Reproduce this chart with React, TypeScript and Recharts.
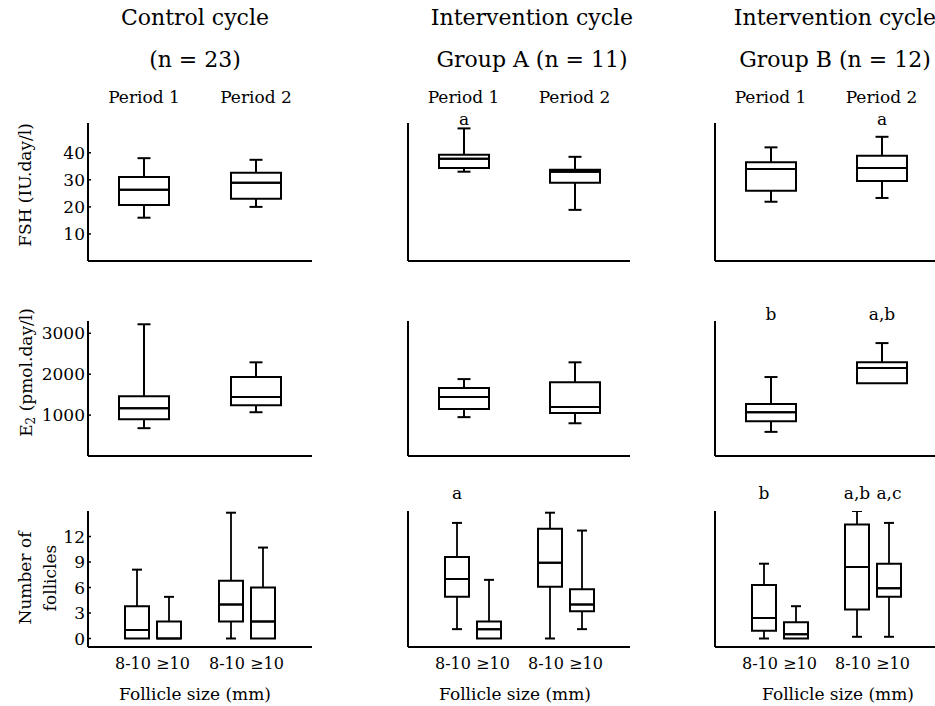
import React from "react";
import { ComposedChart, Bar, XAxis, YAxis, LabelList } from "recharts";

const FONT = "'DejaVu Serif', 'Liberation Serif', 'Noto Serif', serif";

// ---------- text ----------
const columnTitles = [
  ["Control cycle", "(n = 23)"],
  ["Intervention cycle", "Group A (n = 11)"],
  ["Intervention cycle", "Group B (n = 12)"],
];
const periods = ["Period 1", "Period 2"];
const follicleSizes = ["8-10", "≥10"];
const xAxisTitle = "Follicle size (mm)";

// ---------- axes ----------
const fshTicks = [10, 20, 30, 40];
const e2Ticks = [1000, 2000, 3000];
const follicleTicks = [0, 3, 6, 9, 12];
const fshDomain = [0, 51];
const e2Domain = [0, 3300];
const follicleDomain = [-1, 15];

// ---------- data: [min, q1, median, q3, max] per period ----------
const fshControl = [[16, 20.7, 26.3, 31, 38], [20, 23, 28.9, 32.6, 37.4]];
const fshGroupA = [[33, 34.4, 37.8, 39.3, 49], [18.9, 28.9, 33, 33.7, 38.5]];
const fshGroupB = [[21.9, 26, 34, 36.5, 42], [23.3, 29.6, 34.4, 38.9, 45.9]];
const fshMarksControl = ["", ""];
const fshMarksA = ["a", ""];
const fshMarksB = ["", "a"];

const e2Control = [[680, 900, 1170, 1460, 3220], [1070, 1240, 1440, 1930, 2290]];
const e2GroupA = [[950, 1150, 1440, 1660, 1880], [800, 1050, 1200, 1800, 2290]];
const e2GroupB = [[590, 850, 1070, 1270, 1930], [1780, 1780, 2150, 2290, 2760]];
const e2MarksControl = ["", ""];
const e2MarksA = ["", ""];
const e2MarksB = ["b", "a,b"];

// follicles: 8-10 mm ("Small") and >=10 mm ("Large"), per period
const follControlSmall = [[0, 0, 1, 3.8, 8.1], [0, 2, 4, 6.8, 14.8]];
const follControlLarge = [[0, 0, 0, 2, 4.9], [0, 0, 2, 6, 10.7]];
const follGroupASmall = [[1.1, 4.9, 7, 9.6, 13.6], [0, 6.1, 8.9, 12.9, 14.8]];
const follGroupALarge = [[0, 0, 1.1, 2, 6.9], [1.1, 3.2, 4, 5.8, 12.7]];
const follGroupBSmall = [[0, 0.9, 2.4, 6.3, 8.8], [0.2, 3.4, 8.4, 13.4, 15]];
const follGroupBLarge = [[0, 0, 0.5, 1.9, 3.8], [0.2, 4.9, 5.9, 8.8, 13.6]];
const follMarksControlSmall = ["", ""];
const follMarksControlLarge = ["", ""];
const follMarksASmall = ["a", ""];
const follMarksALarge = ["", ""];
const follMarksBSmall = ["b", "a,b"];
const follMarksBLarge = ["", "a,c"];

// ---------- build stacked rows ----------
const segs = (p: string, s: number[]) => ({
  [`${p}base`]: s[0],
  [`${p}lo`]: s[1] - s[0],
  [`${p}b1`]: s[2] - s[1],
  [`${p}b2`]: s[3] - s[2],
  [`${p}hi`]: s[4] - s[3],
});
const singleRows = (stats: number[][], marks: string[]) =>
  periods.map((period, i) => ({ period, mark: marks[i], ...segs("m", stats[i]) }));
const follRows = (small: number[][], large: number[][], mS: string[], mL: string[]) =>
  periods.map((period, i) => ({
    period,
    sizeS: follicleSizes[0],
    sizeL: follicleSizes[1],
    markS: mS[i],
    markL: mL[i],
    ...segs("s", small[i]),
    ...segs("l", large[i]),
  }));

// ---------- layout ----------
const COLS = [
  { left: 0, axisW: 88, plotW: 224, titleX: 195, xTitleX: 195 },
  { left: 400, axisW: 8, plotW: 222, titleX: 532, xTitleX: 515 },
  { left: 707, axisW: 8, plotW: 222, titleX: 835, xTitleX: 838 },
];
const RIGHT = 4;

type RowCfg = {
  top: number; marginTop: number; topAxisH: number; plotH: number; bottomH: number;
  domain: number[]; ticks: number[]; markY: number; cap: number; barSize: number; pad: number;
  stroke: number;
};
const ROWS: Record<string, RowCfg> = {
  fsh: { top: 75, marginTop: 0, topAxisH: 48, plotH: 138, bottomH: 5, domain: fshDomain, ticks: fshTicks, markY: 50, cap: 13, barSize: 50, pad: 0, stroke: 2 },
  e2: { top: 290, marginTop: 31, topAxisH: 0, plotH: 135, bottomH: 5, domain: e2Domain, ticks: e2Ticks, markY: 30, cap: 13, barSize: 50, pad: 0, stroke: 2 },
  foll: { top: 480, marginTop: 31, topAxisH: 0, plotH: 136, bottomH: 59, domain: follicleDomain, ticks: follicleTicks, markY: 19, cap: 10, barSize: 24, pad: 18, stroke: 1.8 },
};

// ---------- shapes ----------
const boxShape = (sw: number) => (props: any) => {
  const { x, y, width, height } = props;
  if (x == null || y == null) return <g />;
  const top = Math.min(y, y + height);
  const h = Math.abs(height || 0);
  return (
    <path
      d={`M${x},${top}h${width}v${h}h${-width}Z`}
      fill="none"
      stroke="#000"
      strokeWidth={sw}
    />
  );
};

const whiskerShape = (capAt: "top" | "bottom", cap: number, sw: number) => (props: any) => {
  const { x, y, width, height } = props;
  if (x == null || y == null || !height || Math.abs(height) < 0.5) return <g />;
  const cx = x + width / 2;
  const top = Math.min(y, y + height);
  const bot = Math.max(y, y + height);
  const cy = capAt === "top" ? top : bot;
  return (
    <g>
      <line x1={cx} x2={cx} y1={top} y2={bot} stroke="#000" strokeWidth={sw} />
      <line x1={cx - cap / 2} x2={cx + cap / 2} y1={cy} y2={cy} stroke="#000" strokeWidth={2} />
    </g>
  );
};

const centerX = (p: any) => {
  const vb = p.viewBox || {};
  const x = p.x ?? vb.x;
  const w = p.width ?? vb.width;
  return x + w / 2;
};

const markLabel = (baseline: number) => (p: any) => {
  if (!p.value) return <g />;
  return (
    <text x={centerX(p)} y={baseline} textAnchor="middle" fontSize={17} fontFamily={FONT} fill="#000">
      {p.value}
    </text>
  );
};

const sizeLabel = (baseline: number) => (p: any) => {
  if (!p.value) return <g />;
  const dx = p.value === follicleSizes[0] ? -4 : 4;
  return (
    <text x={centerX(p) + dx} y={baseline} textAnchor="middle" fontSize={16} fontFamily={FONT} fill="#000">
      {p.value}
    </text>
  );
};

// ---------- y-axis titles ----------
const yTitle = (kind: string) => (p: any) => {
  const vb = p.viewBox;
  const cy0 = vb.y + vb.height / 2;
  if (kind === "fsh") {
    const cx = vb.x + 25, cy = cy0 - 7;
    return (
      <text x={cx} y={cy} transform={`rotate(-90, ${cx}, ${cy})`} textAnchor="middle" dominantBaseline="central" fontSize={17} fontFamily={FONT} fill="#000">
        FSH (IU.day/l)
      </text>
    );
  }
  if (kind === "e2") {
    const cx = vb.x + 26, cy = cy0 - 16;
    return (
      <text x={cx} y={cy} transform={`rotate(-90, ${cx}, ${cy})`} textAnchor="middle" dominantBaseline="central" fontSize={17} fontFamily={FONT} fill="#000">
        E<tspan dy={5} fontSize={12}>2</tspan>
        <tspan dy={-5}> (pmol.day/l)</tspan>
      </text>
    );
  }
  const cy = cy0 - 1;
  return (
    <g>
      <text x={vb.x + 25} y={cy} transform={`rotate(-90, ${vb.x + 25}, ${cy})`} textAnchor="middle" dominantBaseline="central" fontSize={17} fontFamily={FONT} fill="#000">
        Number of
      </text>
      <text x={vb.x + 50} y={cy} transform={`rotate(-90, ${vb.x + 50}, ${cy})`} textAnchor="middle" dominantBaseline="central" fontSize={17} fontFamily={FONT} fill="#000">
        follicles
      </text>
    </g>
  );
};

const xTitle = (colIdx: number) => (p: any) => {
  const vb = p.viewBox;
  const col = COLS[colIdx];
  return (
    <text x={col.xTitleX - col.left} y={vb.y + 53} textAnchor="middle" fontSize={17} fontFamily={FONT} fill="#000">
      {xAxisTitle}
    </text>
  );
};

type Series = { p: string; mark: string; size?: string };

function Panel({ colIdx, rowKey, data, series }: { colIdx: number; rowKey: string; data: any[]; series: Series[] }) {
  const col = COLS[colIdx];
  const row = ROWS[rowKey];
  const width = col.axisW + col.plotW + RIGHT;
  const height = row.marginTop + row.topAxisH + row.plotH + row.bottomH;
  const plotBottom = row.marginTop + row.topAxisH + row.plotH;
  const bars: React.ReactNode[] = [];
  series.forEach((s) => {
    bars.push(
      <Bar key={s.p + "base"} dataKey={`${s.p}base`} stackId={s.p} fill="none" isAnimationActive={false} />
    );
    bars.push(
      <Bar key={s.p + "lo"} dataKey={`${s.p}lo`} stackId={s.p} isAnimationActive={false} shape={whiskerShape("bottom", row.cap, row.stroke)} />
    );
    bars.push(
      <Bar key={s.p + "b1"} dataKey={`${s.p}b1`} stackId={s.p} isAnimationActive={false} shape={boxShape(2)} />
    );
    bars.push(
      <Bar key={s.p + "b2"} dataKey={`${s.p}b2`} stackId={s.p} isAnimationActive={false} shape={boxShape(2)} />
    );
    bars.push(
      <Bar key={s.p + "hi"} dataKey={`${s.p}hi`} stackId={s.p} isAnimationActive={false} shape={whiskerShape("top", row.cap, row.stroke)}>
        <LabelList dataKey={s.mark} content={markLabel(row.markY)} />
        {s.size ? <LabelList dataKey={s.size} content={sizeLabel(plotBottom + 22)} /> : null}
      </Bar>
    );
  });

  return (
    <div style={{ position: "absolute", left: col.left, top: row.top, width, height }}>
      <ComposedChart
        width={width}
        height={height}
        data={data}
        margin={{ top: row.marginTop, right: RIGHT, bottom: 0, left: 0 }}
        barSize={row.barSize}
        barGap={8}
      >
        {rowKey === "fsh" ? (
          <XAxis
            xAxisId="top"
            orientation="top"
            dataKey="period"
            height={row.topAxisH}
            axisLine={false}
            tickLine={false}
            tickSize={6}
            tickMargin={14}
            interval={0}
            tick={{ fontSize: 17, fill: "#000", fontFamily: FONT }}
          />
        ) : null}
        <XAxis
          dataKey="period"
          height={row.bottomH}
          axisLine={{ stroke: "#000", strokeWidth: 2 }}
          tickLine={false}
          tick={false}
          padding={{ left: row.pad, right: row.pad }}
          label={rowKey === "foll" ? xTitle(colIdx) : undefined}
        />
        <YAxis
          type="number"
          width={col.axisW}
          domain={row.domain}
          ticks={row.ticks}
          allowDataOverflow
          interval={0}
          axisLine={{ stroke: "#000", strokeWidth: 2 }}
          tickLine={{ stroke: "#000", strokeWidth: 1.5, transform: "translate(3,0)" }}
          tickSize={3}
          tickMargin={0}
          tick={colIdx === 0 ? { fontSize: 17, fill: "#000", fontFamily: FONT } : false}
          label={colIdx === 0 ? yTitle(rowKey) : undefined}
        />
        {bars}
      </ComposedChart>
    </div>
  );
}

const single: Series[] = [{ p: "m", mark: "mark" }];
const pair: Series[] = [
  { p: "s", mark: "markS", size: "sizeS" },
  { p: "l", mark: "markL", size: "sizeL" },
];

export default function App() {
  return (
    <div
      style={{
        position: "absolute",
        left: 0,
        top: 0,
        width: 935,
        height: 706,
        overflow: "hidden",
        background: "#fff",
        fontFamily: FONT,
      }}
    >
      <svg width={935} height={75} style={{ position: "absolute", left: 0, top: 0 }}>
        {columnTitles.map((lines, i) =>
          lines.map((t, j) => (
            <text
              key={`${i}-${j}`}
              x={COLS[i].titleX}
              y={j === 0 ? 25 : 67}
              textAnchor="middle"
              fontSize={22}
              fontFamily={FONT}
              fill="#000"
            >
              {t}
            </text>
          ))
        )}
      </svg>

      <Panel colIdx={0} rowKey="fsh" data={singleRows(fshControl, fshMarksControl)} series={single} />
      <Panel colIdx={1} rowKey="fsh" data={singleRows(fshGroupA, fshMarksA)} series={single} />
      <Panel colIdx={2} rowKey="fsh" data={singleRows(fshGroupB, fshMarksB)} series={single} />

      <Panel colIdx={0} rowKey="e2" data={singleRows(e2Control, e2MarksControl)} series={single} />
      <Panel colIdx={1} rowKey="e2" data={singleRows(e2GroupA, e2MarksA)} series={single} />
      <Panel colIdx={2} rowKey="e2" data={singleRows(e2GroupB, e2MarksB)} series={single} />

      <Panel colIdx={0} rowKey="foll" data={follRows(follControlSmall, follControlLarge, follMarksControlSmall, follMarksControlLarge)} series={pair} />
      <Panel colIdx={1} rowKey="foll" data={follRows(follGroupASmall, follGroupALarge, follMarksASmall, follMarksALarge)} series={pair} />
      <Panel colIdx={2} rowKey="foll" data={follRows(follGroupBSmall, follGroupBLarge, follMarksBSmall, follMarksBLarge)} series={pair} />
    </div>
  );
}
